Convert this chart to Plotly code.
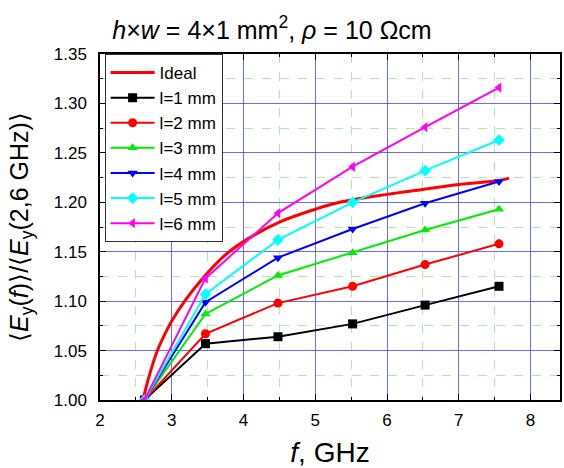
import plotly.graph_objects as go

# ---- data ----
f_meas = [2.62, 3.47, 4.48, 5.52, 6.53, 7.56]
l1 = [1.000, 1.057, 1.064, 1.077, 1.096, 1.115]
l2 = [1.000, 1.067, 1.098, 1.115, 1.137, 1.158]
l3 = [1.000, 1.087, 1.126, 1.149, 1.172, 1.193]
l4 = [1.000, 1.099, 1.144, 1.173, 1.199, 1.221]
l5 = [1.000, 1.107, 1.162, 1.200, 1.232, 1.263]
l6 = [1.000, 1.123, 1.189, 1.236, 1.276, 1.316]

f_ideal = [2.60, 2.65, 2.70, 2.80, 2.90, 3.00, 3.20, 3.43, 3.75, 4.06, 4.50, 5.00, 5.34, 6.00, 6.50, 7.00, 7.56, 7.70]
ideal = [1.000, 1.015, 1.028, 1.050, 1.066, 1.080, 1.102, 1.123, 1.147, 1.163, 1.180, 1.193, 1.200, 1.208, 1.213, 1.218, 1.222, 1.2245]

series_names = ["l=1 mm", "l=2 mm", "l=3 mm", "l=4 mm", "l=5 mm", "l=6 mm"]
series_vals = [l1, l2, l3, l4, l5, l6]
colors = ["#000000", "#FF0000", "#00EE00", "#0000FF", "#00FFFF", "#FF00FF"]
symbols = ["square", "circle", "triangle-up", "triangle-down", "diamond", "triangle-left"]

FONT = "Liberation Sans, Arial, sans-serif"

fig = go.Figure()
fig.add_trace(go.Scatter(x=f_ideal, y=ideal, mode="lines", name="Ideal",
                         line=dict(color="#FF0000", width=3, shape="spline")))
for name, vals, c, s in zip(series_names, series_vals, colors, symbols):
    fig.add_trace(go.Scatter(x=f_meas, y=vals, mode="lines+markers", name=name,
                             line=dict(color=c, width=2),
                             marker=dict(symbol=s, size=9, color=c)))

axis_common = dict(
    showline=True, linecolor="#000000", linewidth=1.5, mirror="allticks",
    ticks="inside", ticklen=6, tickcolor="#000000", tickwidth=1,
    showgrid=True, gridcolor="rgba(70,70,255,0.8)", gridwidth=1,
    zeroline=False, automargin=False,
    tickfont=dict(family=FONT, size=17, color="#000000"),
)

minor_common = dict(ticks="inside", ticklen=3, tickcolor="#000000",
                    showgrid=True, gridcolor="rgba(140,225,140,0.7)", griddash="dash", gridwidth=0.8)

fig.update_xaxes(range=[2, 8.41], dtick=1, tick0=2, ticklabelstandoff=4,
                 minor=dict(dtick=0.5, **minor_common),
                 title=dict(text="<i>f</i>, GHz", font=dict(family=FONT, size=28, color="#000000"), standoff=18),
                 **axis_common)
fig.update_yaxes(range=[1.0, 1.35], dtick=0.05, tick0=1.0, tickformat=".2f", ticklabelstandoff=8,
                 minor=dict(dtick=0.025, **minor_common),
                 title=dict(text="⟨<i>E</i><sub>y</sub>(<i>f</i>)⟩/⟨<i>E</i><sub>y</sub>(2,6 GHz)⟩",
                            font=dict(family=FONT, size=25, color="#000000"), standoff=18),
                 **axis_common)

fig.update_layout(
    width=564, height=468,
    margin=dict(l=100, r=4, t=54, b=68),
    paper_bgcolor="white", plot_bgcolor="white",
    font=dict(family=FONT, color="#000000"),
    title=dict(text="<i>h</i>×<i>w</i> = 4×1 mm<sup>2</sup>, <i>ρ</i> = 10 Ωcm",
               x=272/564, xanchor="center", y=1 - 30/468, yanchor="middle",
               font=dict(family=FONT, size=25, color="#000000")),
    legend=dict(x=0.01, y=1.0, xanchor="left", yanchor="top",
                bgcolor="white", bordercolor="#333333", borderwidth=1,
                font=dict(family=FONT, size=17, color="#000000"),
                tracegroupgap=0, itemwidth=44),
    showlegend=True,
)

fig.write_html("out.html")
